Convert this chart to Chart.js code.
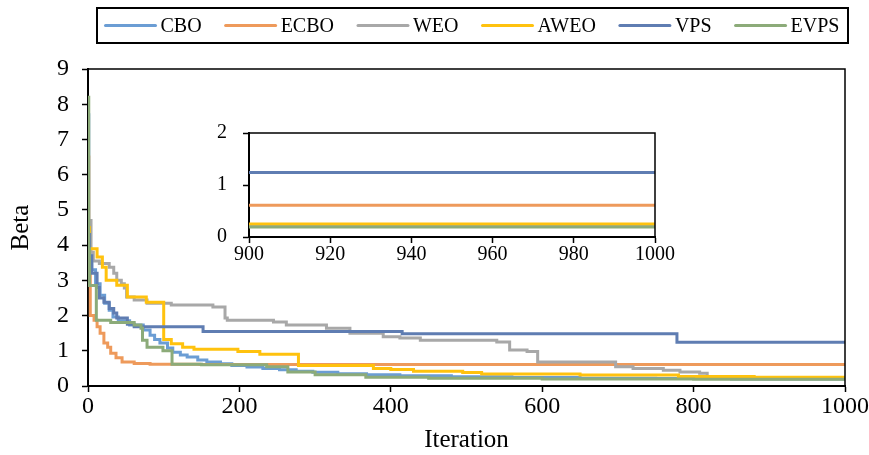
<!DOCTYPE html>
<html>
<head>
<meta charset="utf-8">
<script src="https://cdn.jsdelivr.net/npm/chart.js@4"></script>
<style>
body { margin: 0; background: #fff; }
#wrap { position: relative; width: 869px; height: 455px; }
#mainChart { position: absolute; left: 0; top: 0; }
#insetChart { position: absolute; left: 200px; top: 105px; }
</style>
</head>
<body>
<div id="wrap">
  <canvas id="mainChart" width="869" height="455"></canvas>
  <canvas id="insetChart" width="480" height="165"></canvas>
</div>
<script>
// best-so-far Beta per method, [iteration, beta]; each value holds until the next point
const CBO = [[0, 7.7], [1, 4.2], [3, 3.6], [5, 3.3], [10, 2.9], [16, 2.58], [22, 2.35], [28, 2.15],
  [33, 1.96], [40, 1.85], [55, 1.73], [73, 1.59], [82, 1.44], [88, 1.32], [95, 1.22], [105, 1.08],
  [112, 0.96], [122, 0.88], [131, 0.82], [145, 0.74], [157, 0.68], [175, 0.63], [190, 0.58],
  [210, 0.54], [231, 0.5], [253, 0.46], [275, 0.42], [297, 0.39], [330, 0.35], [368, 0.32],
  [412, 0.29], [480, 0.26], [560, 0.24], [650, 0.22], [750, 0.21], [850, 0.2], [1000, 0.19]];
const ECBO = [[0, 6.5], [1, 4.5], [2, 3.3], [3, 2.0], [8, 1.87], [12, 1.68], [16, 1.5], [21, 1.22],
  [26, 1.1], [30, 0.93], [37, 0.8], [45, 0.68], [61, 0.64], [82, 0.62], [148, 0.61], [1000, 0.61]];
const WEO = [[0, 4.7], [4, 3.8], [7, 3.55], [15, 3.48], [28, 3.37], [34, 3.2], [38, 3.0], [44, 2.9],
  [48, 2.78], [51, 2.53], [61, 2.44], [78, 2.35], [110, 2.3], [165, 2.24], [181, 1.93], [184, 1.87],
  [245, 1.82], [262, 1.73], [315, 1.64], [346, 1.5], [390, 1.4], [412, 1.36], [439, 1.3], [540, 1.25],
  [557, 1.02], [580, 0.98], [594, 0.68], [697, 0.55], [720, 0.5], [760, 0.45], [782, 0.4], [808, 0.36],
  [818, 0.26], [850, 0.22], [1000, 0.2]];
const AWEO = [[0, 4.5], [2, 3.9], [12, 3.66], [19, 3.37], [24, 3.0], [38, 2.86], [52, 2.53], [77, 2.38],
  [100, 1.32], [110, 1.2], [125, 1.1], [140, 1.04], [198, 0.98], [227, 0.9], [278, 0.58], [377, 0.5],
  [400, 0.47], [430, 0.42], [495, 0.38], [520, 0.34], [650, 0.31], [780, 0.27], [880, 0.25], [1000, 0.24]];
const VPS = [[0, 4.3], [2, 3.7], [5, 3.2], [12, 2.8], [15, 2.5], [21, 2.38], [28, 2.2], [34, 2.07],
  [38, 1.93], [52, 1.75], [61, 1.68], [152, 1.55], [415, 1.48], [778, 1.24], [1000, 1.24]];
const EVPS = [[0, 8.2], [1, 3.9], [2, 2.85], [11, 1.87], [30, 1.8], [61, 1.73], [70, 1.64], [72, 1.3],
  [78, 1.1], [99, 1.0], [111, 0.62], [150, 0.6], [236, 0.55], [264, 0.4], [300, 0.32], [367, 0.25],
  [450, 0.22], [600, 0.2], [800, 0.19], [1000, 0.18]];

const seriesNames = ['CBO', 'ECBO', 'WEO', 'AWEO', 'VPS', 'EVPS'];
const seriesData = [CBO, ECBO, WEO, AWEO, VPS, EVPS];
const seriesColors = ['#6b9dd4', '#ee9a5b', '#a8a8a8', '#ffc20e', '#5f7db2', '#8cab79'];

const xTicksMain = [0, 1000, 200];   // min, max, step
const yTicksMain = [0, 9, 1];
const xTicksInset = [900, 1000, 20];
const yTicksInset = [0, 2, 1];

const serif = '"Liberation Serif", "Times New Roman", serif';
Chart.defaults.font.family = serif;
Chart.defaults.color = '#000';

function makeDatasets(width) {
  return seriesData.map((pts, i) => ({
    label: seriesNames[i],
    data: pts.map(p => ({ x: p[0], y: p[1] })),
    borderColor: seriesColors[i],
    backgroundColor: seriesColors[i],
    borderWidth: width,
    pointRadius: 0,
    stepped: true,
    fill: false,
    order: seriesData.length - i   // later series drawn on top
  }));
}

// thin top/right edge so the plot area reads as a box
const plotFrame = {
  id: 'plotFrame',
  afterDatasetsDraw(chart, args, opts) {
    const { ctx, chartArea: a } = chart;
    ctx.save();
    ctx.strokeStyle = '#000';
    ctx.lineWidth = opts.width || 1.5;
    ctx.beginPath();
    ctx.moveTo(a.left, a.top);
    ctx.lineTo(a.right, a.top);
    ctx.lineTo(a.right, a.bottom);
    ctx.stroke();
    ctx.restore();
  }
};

// single-row legend inside a framed box
const legendBox = {
  id: 'legendBox',
  afterDraw(chart, args, opts) {
    const { ctx } = chart;
    const b = opts.box;
    ctx.save();
    ctx.strokeStyle = '#000';
    ctx.lineWidth = 2;
    ctx.strokeRect(b.x, b.y, b.w, b.h);
    ctx.font = opts.fontSize + 'px ' + serif;
    const items = chart.data.datasets.map(ds => ({
      label: ds.label,
      color: ds.borderColor,
      w: opts.lineLen + opts.textGap + ctx.measureText(ds.label).width
    }));
    const total = items.reduce((s, it) => s + it.w, 0) + opts.itemGap * (items.length - 1);
    let x = b.x + (b.w - total) / 2;
    const y = b.y + b.h / 2;
    items.forEach(it => {
      ctx.strokeStyle = it.color;
      ctx.lineWidth = 3;
      ctx.lineCap = 'round';
      ctx.beginPath();
      ctx.moveTo(x, y);
      ctx.lineTo(x + opts.lineLen, y);
      ctx.stroke();
      ctx.fillStyle = '#000';
      ctx.textBaseline = 'middle';
      ctx.fillText(it.label, x + opts.lineLen + opts.textGap, y + 1);
      x += it.w + opts.itemGap;
    });
    ctx.restore();
  }
};

function axis(range, fontSize, pad, extra) {
  return Object.assign({
    type: 'linear',
    min: range[0],
    max: range[1],
    ticks: {
      stepSize: range[2],
      font: { size: fontSize },
      padding: pad,
      color: '#000',
      maxRotation: 0,
      callback: v => String(v)   // plain numbers, no thousands separator
    },
    grid: { drawOnChartArea: false, drawTicks: true, tickLength: 6, tickWidth: 1.5, tickColor: '#000' },
    border: { display: true, color: '#000', width: 2 }
  }, extra);
}

const mainChart = new Chart(document.getElementById('mainChart'), {
  type: 'line',
  data: { datasets: makeDatasets(3) },
  plugins: [plotFrame, legendBox],
  options: {
    responsive: false,
    animation: false,
    devicePixelRatio: 1,
    layout: { padding: { top: 69, right: 24, left: 0, bottom: 0 } },
    plugins: {
      legend: { display: false },
      tooltip: { enabled: false },
      plotFrame: { width: 1.5 },
      legendBox: { box: { x: 97, y: 8, w: 751, h: 35 }, fontSize: 20, lineLen: 50, textGap: 5, itemGap: 24 }
    },
    scales: {
      x: axis(xTicksMain, 24, 0, {
        title: { display: true, text: 'Iteration', font: { size: 25 }, padding: { top: 0, bottom: 0 } },
        afterFit(s) { s.height = 69; s.paddingLeft = 0; s.paddingRight = 0; }
      }),
      y: axis(yTicksMain, 24, 13, {
        title: { display: true, text: 'Beta', font: { size: 25 }, padding: { top: 6, bottom: 0 } },
        afterFit(s) { s.width = 88; }
      })
    }
  }
});

const insetChart = new Chart(document.getElementById('insetChart'), {
  type: 'line',
  data: { datasets: makeDatasets(3) },
  plugins: [plotFrame],
  options: {
    responsive: false,
    animation: false,
    devicePixelRatio: 1,
    layout: { padding: { top: 18, right: 25, left: 0, bottom: 0 } },
    plugins: {
      legend: { display: false },
      tooltip: { enabled: false },
      plotFrame: { width: 1.5 }
    },
    scales: {
      x: axis(xTicksInset, 20, 0, {
        afterFit(s) { s.height = 33; s.paddingLeft = 0; s.paddingRight = 0; }
      }),
      y: axis(yTicksInset, 20, 16, {
        afterFit(s) { s.width = 49; }
      })
    }
  }
});
</script>
</body>
</html>
